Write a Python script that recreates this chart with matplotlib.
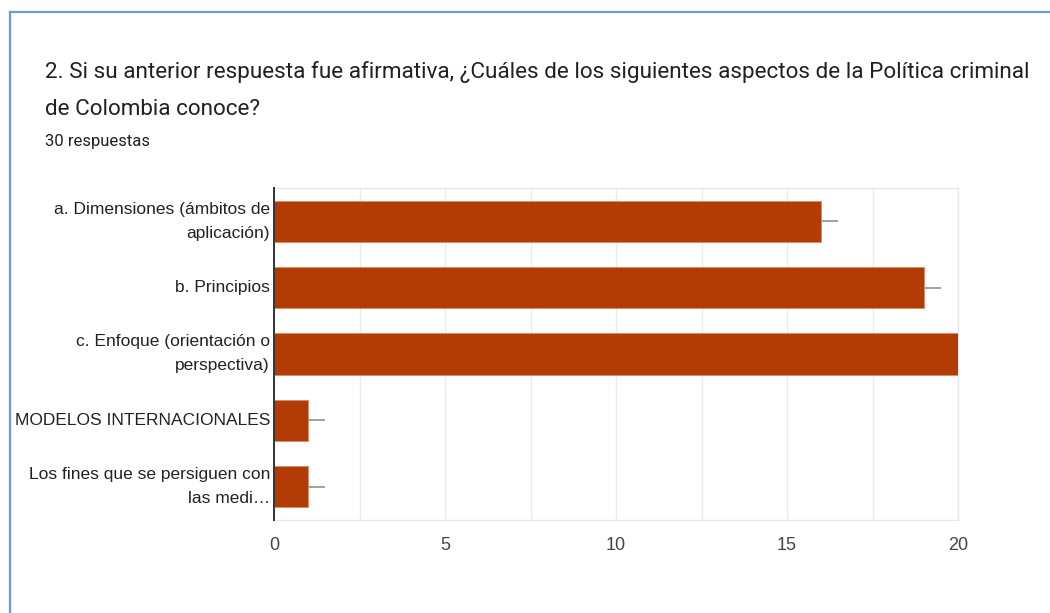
import matplotlib
matplotlib.use("Agg")
import matplotlib.pyplot as plt
from matplotlib.lines import Line2D
from matplotlib.transforms import blended_transform_factory, offset_copy

# Survey results
categories = [
    "a. Dimensiones (ámbitos de\naplicación)",
    "b. Principios",
    "c. Enfoque (orientación o\nperspectiva)",
    "MODELOS INTERNACIONALES",
    "Los fines que se persiguen con\nlas medi…",
]
counts = [16, 19, 20, 1, 1]
x_ticks = [0, 5, 10, 15, 20]

title_line1 = "2. Si su anterior respuesta fue afirmativa, ¿Cuáles de los siguientes aspectos de la Política criminal"
title_line2 = "de Colombia conoce?"
subtitle = "30 respuestas"

W, H = 1050, 613
fig = plt.figure(figsize=(W / 100, H / 100), dpi=100)
fig.patch.set_facecolor("white")

# Card border (left and top edges)
border_color = "#6b9bd8"
fig.add_artist(Line2D([9.5 / W, 9.5 / W], [0, 1 - 12 / H], transform=fig.transFigure,
                      color=border_color, lw=1.6))
fig.add_artist(Line2D([9.5 / W, 1], [1 - 12 / H, 1 - 12 / H], transform=fig.transFigure,
                      color=border_color, lw=1.6))

# Header text
fig.text(45 / W, 1 - 78 / H, title_line1, fontsize=16.2, family="Roboto",
         color="#202124", va="baseline", ha="left")
fig.text(45 / W, 1 - 115 / H, title_line2, fontsize=16.2, family="Roboto",
         color="#202124", va="baseline", ha="left")
fig.text(45 / W, 1 - 146 / H, subtitle, fontsize=12, family="Roboto",
         color="#202124", va="baseline", ha="left")

# Plot area
left, right, top, bottom = 274, 958, 188, 520
ax = fig.add_axes([left / W, 1 - bottom / H, (right - left) / W, (bottom - top) / H])

ypos = list(range(len(categories)))
bar_color = "#b33c06"
ax.barh(ypos, counts, height=0.62, color=bar_color, edgecolor="#d98a6a",
        linewidth=0.6, zorder=3)
ax.errorbar(counts, ypos, xerr=[[0] * len(counts), [0.5] * len(counts)],
            fmt="none", ecolor="#9a9a9a", elinewidth=1.3, capsize=0, zorder=2)

ax.set_xlim(0, 20)
ax.set_ylim(len(categories) - 0.5, -0.5)
ax.set_xticks(x_ticks)
ax.set_xticks([2.5, 7.5, 12.5, 17.5], minor=True)
ax.set_yticks(ypos)
ax.set_yticklabels([])
ax.set_xticklabels([str(t) for t in x_ticks], fontsize=13,
                   family="Liberation Sans", color="#444444")

# Category labels, right-aligned next to the axis with wider line spacing
label_tf = offset_copy(blended_transform_factory(ax.transAxes, ax.transData),
                       fig=fig, x=-4, y=0, units="dots")
for y, name in zip(ypos, categories):
    ax.text(0, y, name, transform=label_tf, ha="right", va="center",
            fontsize=12.5, family="Liberation Sans", color="#222222",
            linespacing=1.75, multialignment="right")

ax.grid(axis="x", which="both", color="#ebebeb", lw=1.0, zorder=0)
ax.tick_params(axis="both", which="both", length=0)
ax.tick_params(axis="x", pad=12)

for side in ("top", "right", "bottom"):
    ax.spines[side].set_color("#e6e6e6")
    ax.spines[side].set_linewidth(1.0)
ax.spines["left"].set_color("#333333")
ax.spines["left"].set_linewidth(1.4)
ax.spines["left"].set_zorder(4)

fig.savefig("out.png", dpi=100, facecolor="white")
